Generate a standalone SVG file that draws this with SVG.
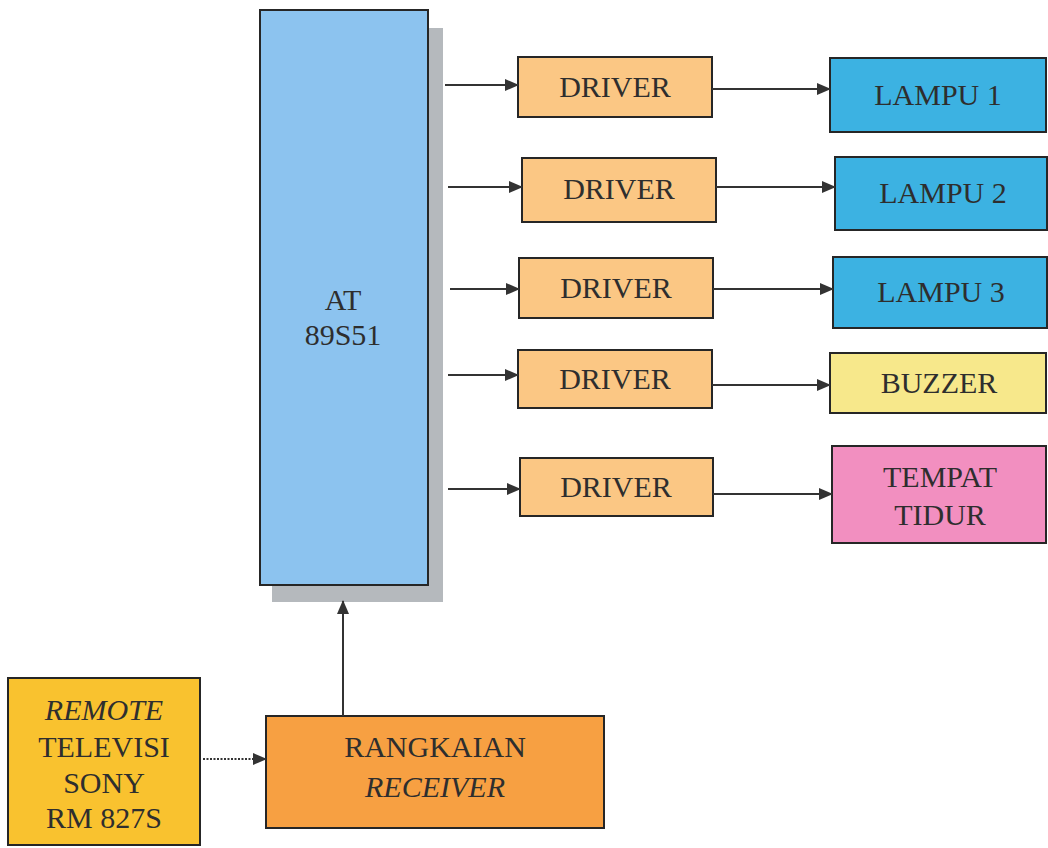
<svg xmlns="http://www.w3.org/2000/svg" width="1048" height="848" viewBox="0 0 1048 848">
  <defs>
    <marker id="arrow" markerUnits="userSpaceOnUse" markerWidth="14" markerHeight="12" refX="13" refY="6" orient="auto">
      <path d="M0,0 L14,6 L0,12 z" fill="#333"/>
    </marker>
    <style>
      .box { stroke: #262626; stroke-width: 2; }
      .lbl { font-family: "Liberation Serif", "Times New Roman", serif; font-size: 30px; fill: #2e2e2e; text-anchor: middle; }
      .it { font-style: italic; }
      .wire { stroke: #333; stroke-width: 2; fill: none; marker-end: url(#arrow); }
      .dot { stroke-dasharray: 2 1.5; }
    </style>
  </defs>
  <rect width="1048" height="848" fill="#ffffff"/>

  <!-- microcontroller -->
  <g id="mcu">
    <rect x="272" y="28" width="171" height="574" fill="#b5b9bd"/>
    <rect class="box" x="260" y="10" width="168" height="575" fill="#8cc3ef"/>
    <text class="lbl" x="343" y="310">AT</text>
    <text class="lbl" x="343" y="345">89S51</text>
  </g>

  <!-- drivers -->
  <g id="driver1">
    <rect class="box" x="518" y="57" width="194" height="60" fill="#fbc784"/>
    <text class="lbl" x="615" y="97">DRIVER</text>
  </g>
  <g id="driver2">
    <rect class="box" x="522" y="158" width="194" height="64" fill="#fbc784"/>
    <text class="lbl" x="619" y="199">DRIVER</text>
  </g>
  <g id="driver3">
    <rect class="box" x="519" y="258" width="194" height="60" fill="#fbc784"/>
    <text class="lbl" x="616" y="298">DRIVER</text>
  </g>
  <g id="driver4">
    <rect class="box" x="518" y="350" width="194" height="58" fill="#fbc784"/>
    <text class="lbl" x="615" y="389">DRIVER</text>
  </g>
  <g id="driver5">
    <rect class="box" x="520" y="458" width="193" height="58" fill="#fbc784"/>
    <text class="lbl" x="616" y="497">DRIVER</text>
  </g>

  <!-- loads -->
  <g id="lampu1">
    <rect class="box" x="830" y="58" width="216" height="74" fill="#3cb2e2"/>
    <text class="lbl" x="938" y="105">LAMPU 1</text>
  </g>
  <g id="lampu2">
    <rect class="box" x="835" y="157" width="212" height="73" fill="#3cb2e2"/>
    <text class="lbl" x="943" y="203">LAMPU 2</text>
  </g>
  <g id="lampu3">
    <rect class="box" x="833" y="257" width="214" height="71" fill="#3cb2e2"/>
    <text class="lbl" x="941" y="302">LAMPU 3</text>
  </g>
  <g id="buzzer">
    <rect class="box" x="830" y="353" width="216" height="60" fill="#f7e88b"/>
    <text class="lbl" x="939" y="393">BUZZER</text>
  </g>
  <g id="tempat-tidur">
    <rect class="box" x="832" y="446" width="214" height="97" fill="#f28fc0"/>
    <text class="lbl" x="940" y="487">TEMPAT</text>
    <text class="lbl" x="940" y="525">TIDUR</text>
  </g>

  <!-- input side -->
  <g id="remote">
    <rect class="box" x="8" y="678" width="192" height="167" fill="#f9c22f"/>
    <text class="lbl it" x="104" y="720">REMOTE</text>
    <text class="lbl" x="104" y="757">TELEVISI</text>
    <text class="lbl" x="104" y="793">SONY</text>
    <text class="lbl" x="104" y="828">RM 827S</text>
  </g>
  <g id="receiver">
    <rect class="box" x="266" y="716" width="338" height="112" fill="#f7a042"/>
    <text class="lbl" x="435" y="757">RANGKAIAN</text>
    <text class="lbl it" x="435" y="797">RECEIVER</text>
  </g>

  <!-- connectors -->
  <g id="connectors">
    <line class="wire" x1="445" y1="85" x2="518" y2="85"/>
    <line class="wire" x1="448" y1="187" x2="522" y2="187"/>
    <line class="wire" x1="450" y1="289" x2="519" y2="289"/>
    <line class="wire" x1="448" y1="375" x2="518" y2="375"/>
    <line class="wire" x1="448" y1="489" x2="520" y2="489"/>

    <line class="wire" x1="712" y1="89" x2="830" y2="89"/>
    <line class="wire" x1="716" y1="187" x2="835" y2="187"/>
    <line class="wire" x1="713" y1="289" x2="833" y2="289"/>
    <line class="wire" x1="712" y1="385" x2="830" y2="385"/>
    <line class="wire" x1="713" y1="494" x2="832" y2="494"/>

    <line class="wire dot" x1="203" y1="759" x2="266" y2="759"/>
    <line class="wire" x1="343" y1="716" x2="343" y2="601"/>
  </g>
</svg>
